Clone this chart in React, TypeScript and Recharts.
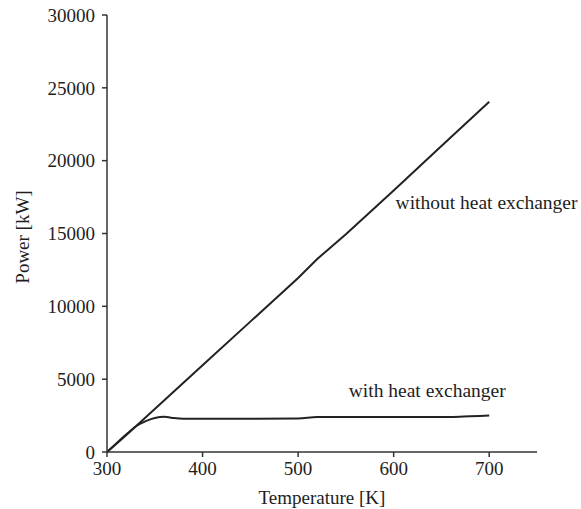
import React from 'react';
import { LineChart, Line, XAxis, YAxis, ReferenceDot } from 'recharts';

const withoutT = [300, 320, 340, 360, 400, 450, 500, 520, 550, 600, 650, 700];
const withoutP = [0, 1150, 2350, 3550, 5950, 8950, 11950, 13250, 14950, 17950, 21000, 24050];

const withT = [300, 310, 320, 330, 340, 350, 360, 370, 380, 450, 500, 520, 600, 660, 680, 700];
const withP = [0, 600, 1200, 1750, 2100, 2330, 2420, 2330, 2290, 2290, 2300, 2400, 2400, 2400, 2450, 2500];

const xTicks = [300, 400, 500, 600, 700];
const yTicks = [0, 5000, 10000, 15000, 20000, 25000, 30000];

const withoutData = withoutT.map((t, i) => ({ t, p: withoutP[i] }));
const withData = withT.map((t, i) => ({ t, p: withP[i] }));

const FONT = '"Liberation Serif", "Times New Roman", serif';
const TEXT = '#1e1e1e';
const AXIS = '#333';

const YLabel = () => (
  <text
    x={22}
    y={237}
    transform="rotate(-90 22 237)"
    textAnchor="middle"
    dominantBaseline="central"
    fill={TEXT}
    fontSize={19}
    fontFamily={FONT}
  >
    Power [kW]
  </text>
);

export default function App() {
  return (
    <div style={{ position: 'absolute', left: 0, top: 0, background: '#fff' }}>
      <LineChart width={581} height={509} margin={{ top: 15, right: 44, bottom: 0, left: 0 }}>
        <XAxis
          type="number"
          dataKey="t"
          domain={[300, 750]}
          ticks={xTicks}
          height={57}
          tickSize={5}
          tickMargin={5}
          allowDataOverflow
          stroke={AXIS}
          strokeWidth={1.5}
          tick={{ fill: TEXT, fontSize: 19, fontFamily: FONT }}
          label={{ value: 'Temperature [K]', position: 'insideBottom', offset: 5, fill: TEXT, fontSize: 19, fontFamily: FONT }}
        />
        <YAxis
          type="number"
          domain={[0, 30000]}
          ticks={yTicks}
          width={107}
          tickSize={5}
          tickMargin={7}
          stroke={AXIS}
          strokeWidth={1.5}
          tick={{ fill: TEXT, fontSize: 19, fontFamily: FONT }}
          label={{ content: () => <YLabel /> }}
        />
        <Line data={withoutData} dataKey="p" type="linear" stroke="#222" strokeWidth={2} dot={false} isAnimationActive={false} />
        <Line data={withData} dataKey="p" type="monotone" stroke="#222" strokeWidth={2} dot={false} isAnimationActive={false} />
        <ReferenceDot x={602} y={17160} r={0} stroke="none" fill="none"
          label={{ value: 'without heat exchanger', position: 'right', offset: 0, fill: TEXT, fontSize: 19.5, fontFamily: FONT }} />
        <ReferenceDot x={553} y={4250} r={0} stroke="none" fill="none"
          label={{ value: 'with heat exchanger', position: 'right', offset: 0, fill: TEXT, fontSize: 19.5, fontFamily: FONT }} />
      </LineChart>
    </div>
  );
}
